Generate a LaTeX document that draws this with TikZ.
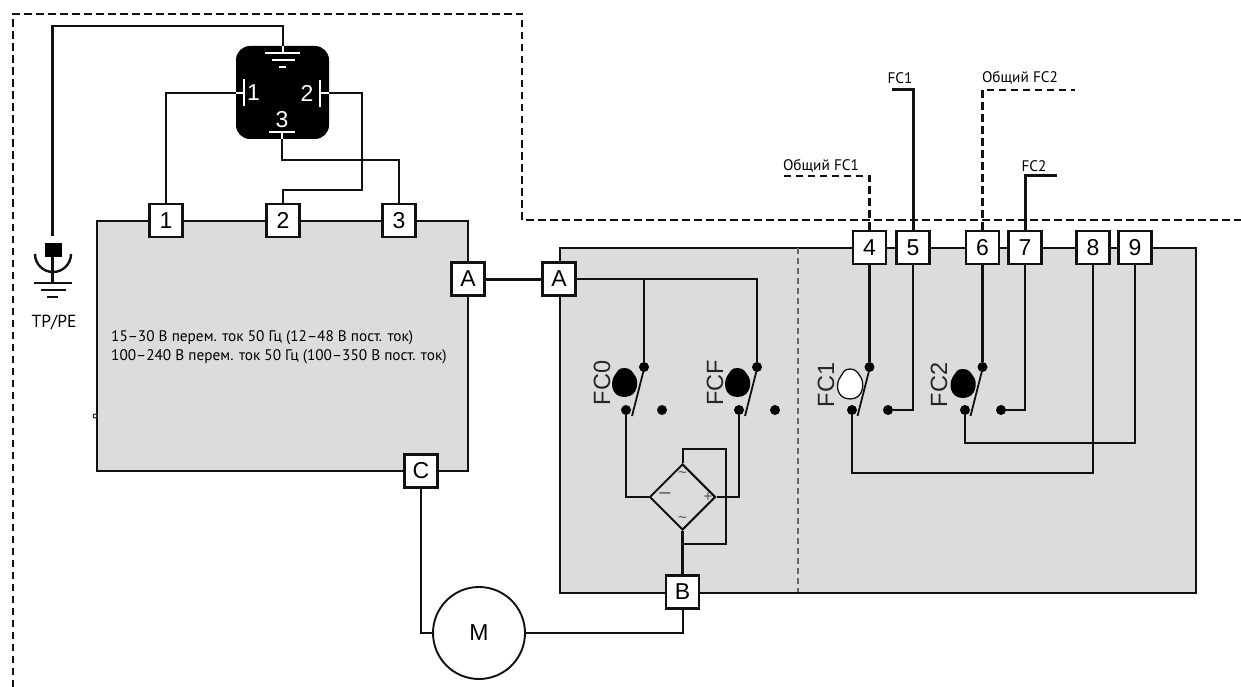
\documentclass[tikz,border=0pt]{standalone}
\usepackage{fontspec}
\setmainfont{Liberation Sans}
\newfontfamily\capfont{PT Sans}
\usetikzlibrary{shapes.geometric,calc}
\definecolor{panel}{HTML}{DCDCDC}
\definecolor{ink}{HTML}{111111}
\tikzset{
  x=1pt,y=-1pt,
  panelbox/.style={draw=ink,fill=panel,line width=2pt,line join=miter},
  wire/.style={draw=ink,line width=2.5pt,line join=miter},
  thinwire/.style={draw=ink,line width=2pt,line join=miter},
  heavywire/.style={draw=ink,line width=3pt},
  dashwire/.style={draw=ink,line width=2.8pt,dash pattern=on 7.5pt off 4.5pt},
  sepline/.style={draw=black!60,line width=2pt,dash pattern=on 6pt off 4pt},
  terminal/.style={draw=ink,fill=white,line width=2.2pt,minimum size=33pt,inner sep=0pt,font=\fontsize{23}{23}\selectfont},
  contact/.style={circle,fill=black,minimum size=10pt,inner sep=0pt},
  fclabel/.style={rotate=90,inner sep=0pt,text=black!85,font=\fontsize{23.5}{23.5}\selectfont},
  caption/.style={inner sep=0pt,text=black,font=\capfont\fontsize{15.3}{15.3}\selectfont},
  whitestroke/.style={draw=white,line width=2.4pt},
  whitenum/.style={inner sep=0pt,text=white,font=\fontsize{23}{23}\selectfont},
  camblack/.pic={\path[fill=black] (0,-15) .. controls (6,-15) and (8,-11) .. (10,-8) .. controls (15,-3) and (14,14) .. (0,14) .. controls (-14,14) and (-15,-2) .. (-9,-9) .. controls (-7,-12) and (-6,-15) .. (0,-15) -- cycle;},
  camwhite/.pic={\path[fill=white,draw=ink,line width=1.3pt] (0,-16) .. controls (6,-16) and (8,-12) .. (10,-9) .. controls (15,-3) and (14,14) .. (0,14) .. controls (-14,14) and (-15,-2) .. (-9,-9) .. controls (-7,-12) and (-6,-16) .. (0,-16) -- cycle;},
}
\newcommand{\fcblade}[2]{\draw[ink,line width=1.8pt] (#1+0,#2+2) -- (#1-12,#2+49);}
\begin{document}
\begin{tikzpicture}
\useasboundingbox (0,0) rectangle (1241,687);
\fill[white] (0,0) rectangle (1241,687);

% outer dashed enclosure
\coordinate (oa) at (13,687);
\coordinate (ob) at (13,14);
\coordinate (oc) at (522,14);
\coordinate (od) at (522,220);
\coordinate (oe) at (1241,220);
\draw[dashwire] (oa) -- (ob) -- (oc) -- (od) -- (oe);

% panels
\node[panelbox,minimum width=371pt,minimum height=250pt,inner sep=0pt] (left) at (282.5,346) {};
\node[panelbox,minimum width=636pt,minimum height=345pt,inner sep=0pt] (right) at (878,420) {};
\coordinate (sept) at (798,248);
\coordinate (sepb) at (798,592);
\draw[sepline] (sept) -- (sepb);
\node[circle,draw=ink,fill=white,line width=.9pt,minimum size=4pt,inner sep=0pt] (nick) at (95,416) {};

% black module
\node[fill=black,rounded corners=14pt,minimum size=93pt,inner sep=0pt] (module) at (282.5,92.5) {};

% terminals
\node[terminal] (t1) at (166,220.5) {1};
\node[terminal] (t2) at (283,220.5) {2};
\node[terminal] (t3) at (399,220.5) {3};
\node[terminal] (ta) at (468,279) {A};
\node[terminal] (tc) at (421,471) {C};
\node[terminal] (tab) at (559,279) {A};
\node[terminal] (tb) at (682.5,592) {B};
\node[terminal] (t4) at (869.5,247.5) {4};
\node[terminal] (t5) at (913,247.5) {5};
\node[terminal] (t6) at (982.5,247.5) {6};
\node[terminal] (t7) at (1025,247.5) {7};
\node[terminal] (t8) at (1093,247.5) {8};
\node[terminal] (t9) at (1135,247.5) {9};

% module contacts
\coordinate (gtop) at (283,53);
\coordinate (c1) at (244,93);
\coordinate (c2) at (320,93);
\coordinate (c3) at (282,132);
\draw[whitestroke] (265,53) -- (300,53);
\draw[whitestroke] (272,60) -- (295,60);
\draw[whitestroke] (279,67) -- (286,67);
\draw[whitestroke] (244,79) -- (244,106);
\draw[whitestroke] (320,80) -- (320,107);
\draw[whitestroke] (269,132) -- (295,132);
\draw[whitestroke] (236,93) -- (c1);
\draw[whitestroke] (c2) -- (329,93);
\draw[whitestroke] (c3) -- (282,139);
\draw[whitestroke] (gtop) -- (283,46);
\node[whitenum] (n1) at (253.5,93) {1};
\node[whitenum] (n2) at (307,93) {2};
\node[whitenum] (n3) at (282,120) {3};

% wires of module
\coordinate (pe) at (52.5,236);
\coordinate (gr) at (283,46);
\draw[wire] (pe) |- (52.5,26) -| (gr);
\draw[wire] (t1.north) |- (236,93);
\draw[wire] (329,93) -| (362,190) -| (t2.north);
\draw[wire] (282,139) |- (399,160) -- (t3.north);

% PE earth symbol
\draw[ink,line width=2.4pt] (35,254) arc[start angle=180,end angle=0,radius=18];
\fill[black] (44.5,243) rectangle (62,257);
\draw[wire] (52.5,257) -- (52.5,283);
\draw[wire] (34,283) -- (72,283);
\draw[wire] (41,290) -- (66,290);
\draw[wire] (47,297) -- (58,297);
\node[caption,font=\capfont\fontsize{17.5}{17.5}\selectfont] (pelabel) at (54,322) {TP/PE};

% supply text
\node[caption,anchor=west] (v1) at (111,338) {15–30 В перем. ток 50 Гц (12–48 В пост. ток)};
\node[caption,anchor=west] (v2) at (111,357) {100–240 В перем. ток 50 Гц (100–350 В пост. ток)};

% A link
\draw[heavywire] (ta) -- (tab);

% contacts
\node[contact] (f0t) at (644,367) {};
\node[contact] (f0l) at (626,410) {};
\node[contact] (f0r) at (662,410) {};
\node[contact] (fft) at (757,367) {};
\node[contact] (ffl) at (739,410) {};
\node[contact] (ffr) at (775,410) {};
\node[contact] (f1t) at (869.5,367) {};
\node[contact] (f1l) at (852,410) {};
\node[contact] (f1r) at (888,410) {};
\node[contact] (f2t) at (982.5,367) {};
\node[contact] (f2l) at (965,410) {};
\node[contact] (f2r) at (1001,410) {};

% rectifier
\node[diamond,draw=ink,fill=panel,line width=2pt,minimum size=66pt,inner sep=0pt] (rect) at (682.5,497) {};
\node[inner sep=0pt,font=\fontsize{15}{15}\selectfont,text=black!70] (tildeA) at (682.5,475) {\char"007E};
\node[inner sep=0pt,font=\fontsize{15}{15}\selectfont,text=black!70] (tildeB) at (682.5,520) {\char"007E};
\node[inner sep=0pt,font=\fontsize{20}{20}\selectfont,text=black!70] (minus) at (665,496) {–};
\node[inner sep=0pt,font=\fontsize{15}{15}\selectfont,text=black!70] (plus) at (708,497) {+};

% circuit wires
\draw[wire] (tab.east) -| (fft);
\draw[wire] (f0t) -- (644,279);
\draw[wire] (f0l) |- (rect.west);
\draw[wire] (ffl) |- (rect.east);
\draw[thinwire] (rect.north) |- (726,449) |- (rect.south |- 0,544);
\draw[wire] (rect.south) -- (tb.north);
\draw[wire] (t4.south) -- (f1t);
\draw[wire] (t5.south) |- (f1r);
\draw[wire] (t6.south) -- (f2t);
\draw[wire] (t7.south) |- (f2r);
\draw[wire] (f1l) |- (1093,473) -- (t8.south);
\draw[wire] (f2l) |- (1135,443) -- (t9.south);

% blades
\fcblade{644}{367}
\fcblade{757}{367}
\fcblade{869.5}{367}
\fcblade{982.5}{367}

% cams
\pic at (624.5,383) {camblack};
\pic at (737.5,383) {camblack};
\pic at (850,385) {camwhite};
\pic at (963,384) {camblack};
\node[fclabel] (l0) at (602,383) {FC0};
\node[fclabel] (lf) at (715,383) {FCF};
\node[fclabel] (l1) at (826,385) {FC1};
\node[fclabel] (l2) at (939,385) {FC2};

% motor
\node[circle,draw=ink,fill=white,line width=1.9pt,minimum size=92pt,inner sep=0pt,font=\fontsize{23}{23}\selectfont] (motor) at (479,633) {M};
\draw[thinwire] (tc.south) |- (motor.west);
\draw[thinwire] (motor.east) -| (tb.south);

% output leads
\coordinate (e4) at (783,176);
\coordinate (e5) at (892,90);
\coordinate (e6) at (1075,90);
\coordinate (e7) at (1057,176);
\draw[dashwire,line width=2.2pt] (t4.north) |- (e4);
\draw[heavywire,line width=3pt] (t5.north) |- (e5);
\draw[dashwire,line width=2.2pt] (t6.north) |- (e6);
\draw[heavywire,line width=3pt] (t7.north) |- (e7);
\node[caption] (lc1) at (821,166) {Общий FC1};
\node[caption] (lf1) at (900,78) {FC1};
\node[caption] (lc2) at (1020,78) {Общий FC2};
\node[caption] (lf2) at (1034,166) {FC2};
\end{tikzpicture}
\end{document}
